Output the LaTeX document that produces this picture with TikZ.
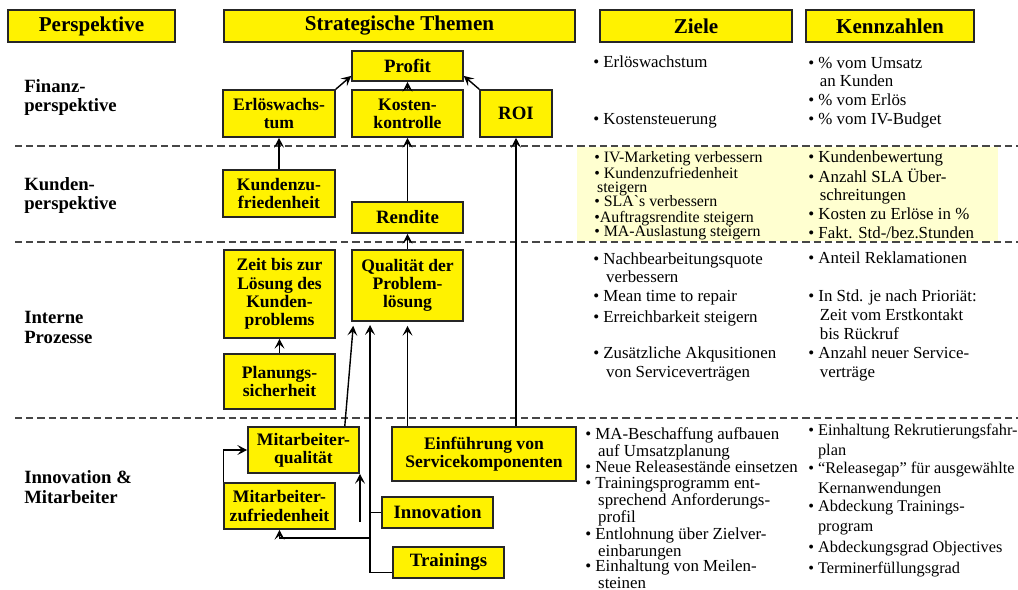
\documentclass[tikz,border=0pt]{standalone}
\usepackage{fontspec}
\setmainfont{Liberation Serif}
\usetikzlibrary{arrows.meta,calc}
\definecolor{hellgelb}{RGB}{255,255,208}
\definecolor{strichgrau}{RGB}{70,70,70}
\newcommand{\pktein}{\hphantom{\textbullet\ }}

\begin{document}
\begin{tikzpicture}[x=0.025cm,y=-0.025cm]
  \tikzset{
    thema/.style={draw=black!85,line width=1.1pt,fill=yellow,align=center,inner sep=1pt,
      font=\fontsize{12.5}{13}\selectfont\bfseries},
    einzeilig/.style={thema,font=\fontsize{13.4}{15}\selectfont\bfseries},
    kopf/.style={thema,font=\fontsize{15}{17}\selectfont\bfseries},
    groesse/.style 2 args={minimum width=#1*0.025cm,minimum height=#2*0.025cm},
    pfeil/.style={line width=1pt,-{Stealth[length=7pt,width=7pt,inset=3pt]}},
    ebene/.style={anchor=base west,align=left,inner sep=0pt,font=\fontsize{13.3}{14.2}\selectfont\bfseries},
    ziel/.style={anchor=base west,align=left,inner sep=0pt,font=\fontsize{12}{13.5}\selectfont},
    trenner/.style={draw=strichgrau,line width=1pt,dash pattern=on 5pt off 3pt}
  }
  \path[fill=white,use as bounding box] (0,0) rectangle (1018,590);
  \fill[hellgelb] (577,147) rectangle (998,241);
  \draw[trenner] (15,146) -- (1018,146);
  \draw[trenner] (15,242) -- (1018,242);
  \draw[trenner] (15,418) -- (1018,418);

  \node[kopf,groesse={167}{32}] (persp) at (91.5,26) {Perspektive};
  \node[kopf,groesse={351}{32}] (themen) at (399.5,26) {Strategische Themen};
  \node[kopf,groesse={192}{32}] (ziele) at (696,26) {Ziele};
  \node[kopf,groesse={168}{32}] (kennz) at (890,26) {Kennzahlen};

  \node[ebene] (finanz) at (24,112) {Finanz-\\perspektive};
  \node[ebene] (kunden) at (24,210) {Kunden-\\perspektive};
  \node[ebene] (intern) at (24,343) {Interne\\Prozesse};
  \node[ebene] (innovma) at (24,503) {Innovation \&\\Mitarbeiter};

  \node[einzeilig,groesse={111}{30}] (profit) at (407.5,66) {Profit};
  \node[thema,groesse={112}{47}] (erloes) at (279,113.5) {Erlöswachs-\\tum};
  \node[thema,groesse={111}{47}] (kosten) at (407.5,113.5) {Kosten-\\kontrolle};
  \node[einzeilig,groesse={72}{47}] (roi) at (516,113.5) {ROI};
  \node[thema,groesse={112}{47}] (kundzuf) at (279,193.5) {Kundenzu-\\friedenheit};
  \node[einzeilig,groesse={111}{31}] (rendite) at (407.5,217.5) {Rendite};
  \node[thema,groesse={111}{88}] (zeit) at (279.5,294) {Zeit bis zur\\Lösung des\\Kunden-\\problems};
  \node[thema,groesse={111}{71}] (qualitaet) at (407.5,285.5) {Qualität der\\Problem-\\lösung};
  \node[thema,groesse={111}{55}] (planung) at (279.5,381.5) {Planungs-\\sicherheit};
  \node[thema,groesse={111}{46}] (maqual) at (303.5,450) {Mitarbeiter-\\qualität};
  \node[thema,groesse={111}{46}] (mazuf) at (279.5,506) {Mitarbeiter-\\zufriedenheit};
  \node[thema,groesse={184}{54}] (einf) at (484,454) {Einführung von\\Servicekomponenten};
  \node[einzeilig,groesse={111}{31}] (innov) at (437.5,512.5) {Innovation};
  \node[einzeilig,groesse={111}{31}] (train) at (448.5,562.5) {Trainings};

  \coordinate (stamm) at (370,325);
  \coordinate (abzweig) at (370,538);
  \coordinate (frei) at (360,522);

  \draw[pfeil] (erloes.north east) -- (profit.190);
  \draw[pfeil] (roi.north west) -- (profit.-10);
  \draw[pfeil] (kosten) -- (profit);
  \draw[pfeil] (kundzuf) -- (erloes);
  \draw[pfeil] (rendite) -- (kosten);
  \draw[pfeil] (qualitaet) -- (rendite);
  \draw[pfeil] (planung) -- (zeit);
  \draw[pfeil] (einf.north -| roi.south) -- (roi.south);
  \draw[pfeil] (einf.north -| qualitaet.south) -- ($(qualitaet.south)+(0,4)$);
  \draw[pfeil] ($(maqual.north east)+(-15,0)$) -- ($(qualitaet.south west)+(2,4)$);
  \draw[pfeil] ($(train.south west)+(0,-6)$) -| (stamm);
  \draw[line width=1pt] (innov.west) -- (innov.west -| stamm);
  \draw[pfeil] (abzweig) -| (mazuf.south);
  \draw[pfeil] (frei) -- (frei |- maqual.south);
  \draw[pfeil] (mazuf.north west) |- (maqual.west);

  \node[ziel] (z1) at (593,68) {\textbullet\ Erlöswachstum};
  \node[ziel] (z2) at (593,125) {\textbullet\ Kostensteuerung};
  \node[ziel] (k1) at (808,87) {\textbullet\ \% vom Umsatz\\\pktein\hspace*{1pt}an Kunden};
  \node[ziel] (k2) at (808,106) {\textbullet\ \% vom Erlös};
  \node[ziel] (k3) at (808,125) {\textbullet\ \% vom IV-Budget};

  \node[ziel,font=\fontsize{11.3}{10}\selectfont] (z3) at (594,163) {\textbullet\ IV-Marketing verbessern};
  \node[ziel,font=\fontsize{11.3}{10}\selectfont] (z4) at (594,193) {\textbullet\ Kundenzufriedenheit\\\hspace*{2pt}steigern};
  \node[ziel,font=\fontsize{11.3}{10}\selectfont] (z5) at (594,207) {\textbullet\ SLA\textasciigrave s verbessern};
  \node[ziel,font=\fontsize{11.3}{10}\selectfont] (z6) at (594,223) {\textbullet Auftragsrendite steigern};
  \node[ziel,font=\fontsize{11.3}{10}\selectfont] (z7) at (594,237) {\textbullet\ MA-Auslastung steigern};
  \node[ziel] (k4) at (808,163) {\textbullet\ Kundenbewertung};
  \node[ziel] (k5) at (808,201) {\textbullet\ Anzahl SLA Über-\\\pktein\hspace*{1pt}schreitungen};
  \node[ziel] (k6) at (808,220) {\textbullet\ Kosten zu Erlöse in \%};
  \node[ziel] (k7) at (808,239) {\textbullet\ Fakt. Std-/bez.Stunden};

  \node[ziel] (z8) at (593,283) {\textbullet\ Nachbearbeitungsquote\\\pktein\hspace*{2pt}verbessern};
  \node[ziel] (z9) at (593,302) {\textbullet\ Mean time to repair};
  \node[ziel] (z10) at (593,322) {\textbullet\ Erreichbarkeit steigern};
  \node[ziel] (z11) at (593,377) {\textbullet\ Zusätzliche Akqusitionen\\\pktein\hspace*{2pt}von Serviceverträgen};
  \node[ziel] (k8) at (808,264) {\textbullet\ Anteil Reklamationen};
  \node[ziel,font=\fontsize{12}{13.2}\selectfont] (k9) at (808,339) {\textbullet\ In Std. je nach Prioriät:\\\pktein\hspace*{1pt}Zeit vom Erstkontakt\\\pktein\hspace*{1pt}bis Rückruf};
  \node[ziel] (k10) at (808,377) {\textbullet\ Anzahl neuer Service-\\\pktein\hspace*{1pt}verträge};

  \node[ziel,font=\fontsize{12}{12}\selectfont] (z12) at (585,456) {\textbullet\ MA-Beschaffung aufbauen\\\pktein\hspace*{2pt}auf Umsatzplanung};
  \node[ziel,font=\fontsize{12}{12}\selectfont] (z13) at (585,472) {\textbullet\ Neue Releasestände einsetzen};
  \node[ziel,font=\fontsize{12}{11.8}\selectfont] (z14) at (585,522) {\textbullet\ Trainingsprogramm ent-\\\pktein\hspace*{2pt}sprechend Anforderungs-\\\pktein\hspace*{2pt}profil};
  \node[ziel,font=\fontsize{12}{12}\selectfont] (z15) at (585,556) {\textbullet\ Entlohnung über Zielver-\\\pktein\hspace*{2pt}einbarungen};
  \node[ziel,font=\fontsize{12}{11.5}\selectfont] (z16) at (585,588) {\textbullet\ Einhaltung von Meilen-\\\pktein\hspace*{2pt}steinen};
  \node[ziel,font=\fontsize{11.6}{14}\selectfont] (k11) at (808,455) {\textbullet\ Einhaltung Rekrutierungsfahr-\\\pktein plan};
  \node[ziel,font=\fontsize{11.6}{13.6}\selectfont] (k12) at (808,493) {\textbullet\ “Releasegap” für ausgewählte\\\pktein Kernanwendungen};
  \node[ziel,font=\fontsize{11.6}{13.6}\selectfont] (k13) at (808,531) {\textbullet\ Abdeckung Trainings-\\\pktein program};
  \node[ziel,font=\fontsize{11.6}{13.6}\selectfont] (k14) at (808,552) {\textbullet\ Abdeckungsgrad Objectives};
  \node[ziel,font=\fontsize{11.6}{13.6}\selectfont] (k15) at (808,573) {\textbullet\ Terminerfüllungsgrad};
\end{tikzpicture}
\end{document}
